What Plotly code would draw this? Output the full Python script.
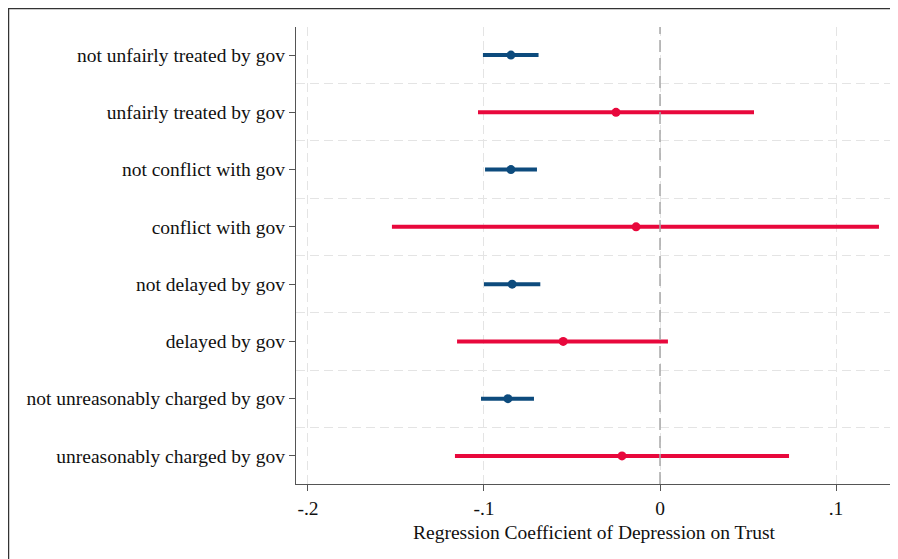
import plotly.graph_objects as go

categories = [
    "not unfairly treated by gov",
    "unfairly treated by gov",
    "not conflict with gov",
    "conflict with gov",
    "not delayed by gov",
    "delayed by gov",
    "not unreasonably charged by gov",
    "unreasonably charged by gov",
]
coef = [-0.0847, -0.0250, -0.0847, -0.0136, -0.0840, -0.0550, -0.0864, -0.0216]
ci_low = [-0.1006, -0.1034, -0.0994, -0.1523, -0.1000, -0.1153, -0.1017, -0.1165]
ci_high = [-0.0690, 0.0534, -0.0699, 0.1244, -0.0680, 0.0045, -0.0716, 0.0733]
group = ["no", "yes", "no", "yes", "no", "yes", "no", "yes"]

x_tickvals = [-0.2, -0.1, 0, 0.1]
x_ticktext = ["-.2", "-.1", "0", ".1"]
x_title = "Regression Coefficient of Depression on Trust"

BLUE = "#0d4b7d"
RED = "#e8083c"

fig = go.Figure()
for g, color in [("no", BLUE), ("yes", RED)]:
    idx = [i for i, v in enumerate(group) if v == g]
    fig.add_trace(go.Scatter(
        x=[coef[i] for i in idx],
        y=idx,
        mode="markers",
        marker=dict(color=color, size=9),
        error_x=dict(
            type="data",
            symmetric=False,
            array=[ci_high[i] - coef[i] for i in idx],
            arrayminus=[coef[i] - ci_low[i] for i in idx],
            color=color,
            thickness=4,
            width=0,
        ),
        showlegend=False,
        hoverinfo="skip",
    ))

fig.add_vline(x=0, line=dict(color="#a8a8a8", width=1.5, dash="12px,6px"))

# outer frame (left and top edges; right/bottom fall outside the picture)
fig.add_shape(type="path", xref="paper", yref="paper",
              path="M -0.4824,-0.3 L -0.4824,1.0405 L 1.2,1.0405",
              line=dict(color="#333333", width=1.5), layer="below")

font = dict(family="Liberation Serif, Times New Roman, serif", size=19.5, color="#111111")

fig.add_annotation(text=x_title, xref="paper", yref="paper", x=0.5, y=-0.1072,
                   xanchor="center", yanchor="middle", showarrow=False, font=font)

GRID = "#e4e4e4"
fig.update_layout(
    width=890, height=551,
    margin=dict(l=288, r=6, t=19, b=75, autoexpand=False),
    paper_bgcolor="white",
    plot_bgcolor="white",
    font=font,
    xaxis=dict(
        range=[-0.2068, 0.1318],
        tickvals=x_tickvals,
        ticktext=x_ticktext,
        showline=True, linecolor="#555555", linewidth=1.3,
        ticks="outside", ticklen=6, tickcolor="#555555",
        showgrid=True, gridcolor=GRID, griddash="9px,5px", gridwidth=1.2,
        zeroline=False,
        automargin=False,
        tickfont=font,
    ),
    yaxis=dict(
        range=[7.49, -0.49],
        tickvals=list(range(len(categories))),
        ticktext=categories,
        showline=True, linecolor="#555555", linewidth=1.3,
        ticks="outside", ticklen=6, tickcolor="#555555",
        showgrid=False, zeroline=False,
        automargin=False,
        minor=dict(tickvals=[i + 0.5 for i in range(len(categories) - 1)],
                   showgrid=True, gridcolor=GRID, griddash="9px,5px", gridwidth=1.2,
                   ticks=""),
        tickfont=font,
    ),
)

fig.write_html("out.html")
